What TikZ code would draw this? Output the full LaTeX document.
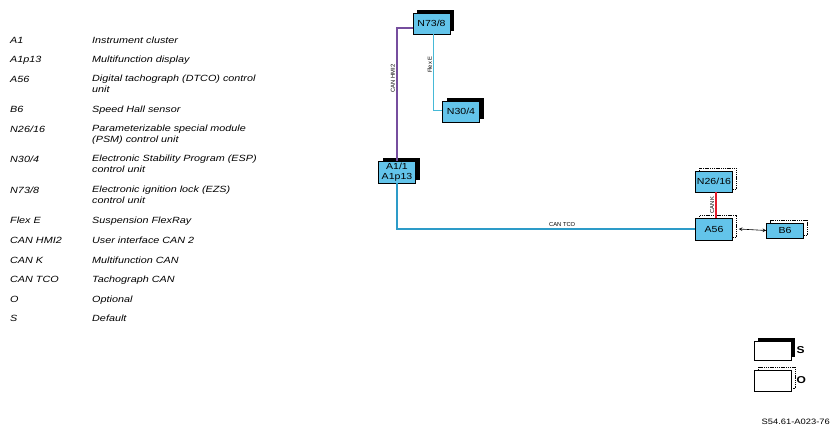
\documentclass[tikz,border=0pt]{standalone}
\usepackage{fontspec}
\setmainfont[FakeStretch=1.2]{Liberation Sans}
\newfontfamily\plainsans{Liberation Sans}
\usetikzlibrary{arrows}
\usetikzlibrary{shadows}
\usetikzlibrary{positioning}

\definecolor{ecublue}{RGB}{99,196,234}
\definecolor{hmipurple}{RGB}{118,78,158}
\definecolor{flexblue}{RGB}{70,185,215}
\definecolor{tcoblue}{RGB}{45,155,200}
\definecolor{canred}{RGB}{228,30,45}

\tikzset{
  ecu/.style={draw=black, line width=0.6pt, fill=ecublue, inner sep=0pt,
    minimum width=37pt, minimum height=21pt, align=center,
    font=\fontsize{8.8}{9.8}\selectfont},
  stdface/.style={general shadow={shadow xshift=4pt, shadow yshift=3pt, fill=black}},
  optface/.style={general shadow={shadow xshift=4pt, shadow yshift=3pt, fill=white,
    draw=black, line width=0.6pt, dash pattern=on 1.4pt off 0.8pt}},
  bus/.style={line width=2.2pt},
  buslabel/.style={font=\plainsans\fontsize{5.8}{6}\selectfont, inner sep=1pt, text=black},
  legkey/.style={anchor=north west, inner sep=0pt, align=left,
    font=\fontsize{9}{11}\selectfont\itshape, execute at begin node=\strut},
  legtag/.style={inner sep=0pt, font=\fontsize{10}{11}\selectfont\bfseries}
}

\begin{document}
\begin{tikzpicture}[x=1pt, y=-1pt]
  \useasboundingbox (0,0) rectangle (839,433);
  % legend
  \foreach \y/\key/\desc [count=\i] in {
      40/A1/{Instrument cluster},
      59.6/A1p13/{Multifunction display},
      79.2/A56/{Digital tachograph (DTCO) control\\unit},
      109.7/B6/{Speed Hall sensor},
      129.3/{N26/16}/{Parameterizable special module\\(PSM) control unit},
      159.8/{N30/4}/{Electronic Stability Program (ESP)\\control unit},
      190.3/{N73/8}/{Electronic ignition lock (EZS)\\control unit},
      220.8/{Flex E}/{Suspension FlexRay},
      240.4/{CAN HMI2}/{User interface CAN 2},
      260/{CAN K}/{Multifunction CAN},
      279.6/{CAN TCO}/{Tachograph CAN},
      299.2/O/{Optional},
      318.8/S/{Default}} {
    \node[legkey] (key\i) at (10,\y-4.8) {\key};
    \node[legkey] (desc\i) at (92,\y-4.8) {\desc};
  }
  % control units
  \node[ecu, stdface] (n738) at (431.5,23.5) {N73/8};
  \node[ecu, stdface] (n304) at (461,111.5) {N30/4};
  \node[ecu, stdface, minimum height=22pt] (a1) at (397,172) {A1/1\\A1p13};
  \node[ecu, optface] (n2616) at (714,181.5) {N26/16};
  \node[ecu, optface, minimum height=22pt] (a56) at (714,229) {A56};
  \node[ecu, optface, minimum height=15pt] (b6) at (785,230.5) {B6};
  % buses
  \draw[bus, hmipurple] ([yshift=-4.5pt]n738.west) -| node[buslabel, pos=0.69, rotate=90, above] {CAN HMI2} (a1.north);
  \draw[flexblue, line width=1pt] ([xshift=2pt]n738.south) |- node[buslabel, pos=0.2, rotate=90, above] {Flex E} ([yshift=1pt]n304.west);
  \draw[bus, tcoblue] (a1.south) |- node[buslabel, pos=0.777, above=0pt] {CAN TCO} (a56.west);
  \draw[canred, line width=1.8pt] ([xshift=2pt]n2616.south) -- node[buslabel, rotate=90, above] {CAN K} ([xshift=2pt]a56.north);
  \draw[<->, >=stealth, line width=0.6pt] ([xshift=6pt]a56.east) -- (b6.west);
  % key to box styles
  \node[ecu, stdface, fill=white, minimum height=19pt] (stdbox) at (772.5,350.5) {};
  \node[legtag, right=5pt of stdbox] (stdtag) {S};
  \node[ecu, optface, fill=white, minimum height=21pt] (optbox) at (772.5,380.5) {};
  \node[legtag, right=5pt of optbox] (opttag) {O};
  \node[anchor=east, inner sep=0pt, font=\fontsize{7.8}{9}\selectfont] (docref) at (830,422) {S54.61-A023-76};
\end{tikzpicture}
\end{document}
